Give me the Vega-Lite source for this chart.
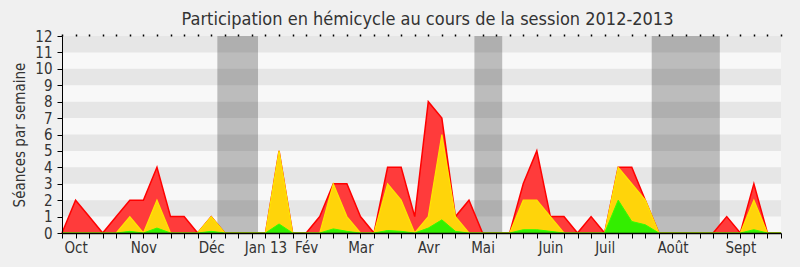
{
  "$schema": "https://vega.github.io/schema/vega-lite/v6.json",
  "autosize": {"type": "none"},
  "padding": {"left": 62, "top": 36, "right": 19, "bottom": 34},
  "width": 719,
  "height": 197,
  "background": "#f0f0f0",
  "title": {
    "text": "Participation en hémicycle au cours de la session 2012-2013",
    "font": "DejaVu Sans Condensed, DejaVu Sans",
    "fontSize": 18,
    "fontWeight": "normal",
    "color": "#333333",
    "anchor": "middle",
    "dx": 6,
    "dy": 9,
    "offset": 9
  },
  "config": {
    "view": {"fill": "#f8f8f8", "stroke": null},
    "font": "DejaVu Sans Condensed, DejaVu Sans",
    "axis": {
      "labelFont": "DejaVu Sans Condensed, DejaVu Sans",
      "titleFont": "DejaVu Sans Condensed, DejaVu Sans",
      "labelFontSize": 15,
      "titleFontSize": 15,
      "titleFontWeight": "normal",
      "labelColor": "#333333",
      "titleColor": "#333333",
      "domainColor": "#000000",
      "tickColor": "#000000",
      "ticks": true,
      "grid": false,
      "zindex": 2
    }
  },
  "datasets": {
    "weeks": [
      {"semaine": 0, "seances": 0, "interventions": 0, "questions": 0},
      {"semaine": 1, "seances": 2, "interventions": 0, "questions": 0},
      {"semaine": 2, "seances": 1, "interventions": 0, "questions": 0},
      {"semaine": 3, "seances": 0, "interventions": 0, "questions": 0},
      {"semaine": 4, "seances": 1, "interventions": 0, "questions": 0},
      {"semaine": 5, "seances": 2, "interventions": 1, "questions": 0.1},
      {"semaine": 6, "seances": 2, "interventions": 0, "questions": 0},
      {"semaine": 7, "seances": 4, "interventions": 2, "questions": 0.3},
      {"semaine": 8, "seances": 1, "interventions": 0, "questions": 0},
      {"semaine": 9, "seances": 1, "interventions": 0, "questions": 0},
      {"semaine": 10, "seances": 0, "interventions": 0, "questions": 0},
      {"semaine": 11, "seances": 1, "interventions": 1, "questions": 0.1},
      {"semaine": 12, "seances": 0, "interventions": 0, "questions": 0},
      {"semaine": 13, "seances": 0, "interventions": 0, "questions": 0},
      {"semaine": 14, "seances": 0, "interventions": 0, "questions": 0},
      {"semaine": 15, "seances": 0, "interventions": 0, "questions": 0},
      {"semaine": 16, "seances": 5, "interventions": 5, "questions": 0.55},
      {"semaine": 17, "seances": 0, "interventions": 0, "questions": 0},
      {"semaine": 18, "seances": 0, "interventions": 0, "questions": 0},
      {"semaine": 19, "seances": 1, "interventions": 0, "questions": 0},
      {"semaine": 20, "seances": 3, "interventions": 3, "questions": 0.25},
      {"semaine": 21, "seances": 3, "interventions": 1, "questions": 0.1},
      {"semaine": 22, "seances": 1, "interventions": 0, "questions": 0},
      {"semaine": 23, "seances": 0, "interventions": 0, "questions": 0},
      {"semaine": 24, "seances": 4, "interventions": 3, "questions": 0.15},
      {"semaine": 25, "seances": 4, "interventions": 2, "questions": 0.1},
      {"semaine": 26, "seances": 1, "interventions": 0, "questions": 0},
      {"semaine": 27, "seances": 8, "interventions": 1, "questions": 0.3},
      {"semaine": 28, "seances": 7, "interventions": 6, "questions": 0.8},
      {"semaine": 29, "seances": 1, "interventions": 1, "questions": 0.1},
      {"semaine": 30, "seances": 2, "interventions": 0, "questions": 0},
      {"semaine": 31, "seances": 0, "interventions": 0, "questions": 0},
      {"semaine": 32, "seances": 0, "interventions": 0, "questions": 0},
      {"semaine": 33, "seances": 0, "interventions": 0, "questions": 0},
      {"semaine": 34, "seances": 3, "interventions": 2, "questions": 0.2},
      {"semaine": 35, "seances": 5, "interventions": 2, "questions": 0.2},
      {"semaine": 36, "seances": 1, "interventions": 1, "questions": 0.1},
      {"semaine": 37, "seances": 1, "interventions": 0, "questions": 0},
      {"semaine": 38, "seances": 0, "interventions": 0, "questions": 0},
      {"semaine": 39, "seances": 1, "interventions": 0, "questions": 0},
      {"semaine": 40, "seances": 0, "interventions": 0, "questions": 0},
      {"semaine": 41, "seances": 4, "interventions": 4, "questions": 2},
      {"semaine": 42, "seances": 4, "interventions": 3, "questions": 0.7},
      {"semaine": 43, "seances": 2, "interventions": 2, "questions": 0.5},
      {"semaine": 44, "seances": 0, "interventions": 0, "questions": 0},
      {"semaine": 45, "seances": 0, "interventions": 0, "questions": 0},
      {"semaine": 46, "seances": 0, "interventions": 0, "questions": 0},
      {"semaine": 47, "seances": 0, "interventions": 0, "questions": 0},
      {"semaine": 48, "seances": 0, "interventions": 0, "questions": 0},
      {"semaine": 49, "seances": 1, "interventions": 0, "questions": 0},
      {"semaine": 50, "seances": 0, "interventions": 0, "questions": 0},
      {"semaine": 51, "seances": 3, "interventions": 2, "questions": 0.2},
      {"semaine": 52, "seances": 0, "interventions": 0, "questions": 0},
      {"semaine": 53, "seances": 0, "interventions": 0, "questions": 0}
    ],
    "bands": [
      {"bas": 1, "haut": 2},
      {"bas": 3, "haut": 4},
      {"bas": 5, "haut": 6},
      {"bas": 7, "haut": 8},
      {"bas": 9, "haut": 10},
      {"bas": 11, "haut": 12}
    ],
    "vacances": [
      {"debut": 11.45, "fin": 14.45},
      {"debut": 30.4, "fin": 32.45},
      {"debut": 43.47, "fin": 48.49}
    ]
  },
  "resolve": {"axis": {"x": "independent", "y": "independent"}},
  "layer": [
    {
      "data": {"name": "bands"},
      "mark": {"type": "rect", "fill": "#e6e6e6"},
      "encoding": {
        "y": {"field": "bas", "type": "quantitative", "scale": {"domain": [0, 12], "nice": false},
              "axis": {"values": [0,1,2,3,4,5,6,7,8,9,10,11,12], "title": "Séances par semaine", "domain": true, "domainColor": "#000000", "domainWidth": 1, "ticks": true, "tickSize": 5, "tickColor": "#000000", "labelPadding": 5, "titlePadding": 7, "zindex": 3}},
        "y2": {"field": "haut"}
      }
    },
    {
      "data": {"name": "vacances"},
      "mark": {"type": "rect", "fill": "#000000", "opacity": 0.24},
      "encoding": {
        "x": {"field": "debut", "type": "quantitative", "scale": {"domain": [0, 53], "nice": false, "zero": false},
              "axis": {"orient": "top", "values": [0,1,2,3,4,5,6,7,8,9,10,11,12,13,14,15,16,17,18,19,20,21,22,23,24,25,26,27,28,29,30,31,32,33,34,35,36,37,38,39,40,41,42,43,44,45,46,47,48,49,50,51,52,53], "labels": false, "domain": false, "tickSize": 2, "tickWidth": 1.5, "title": null, "zindex": 3}},
        "x2": {"field": "fin"}
      }
    },
    {
      "data": {"name": "weeks"},
      "mark": {"type": "area", "color": "#ff3b3b", "fillOpacity": 1, "line": {"color": "#ff0000", "strokeWidth": 1.5}},
      "encoding": {
        "x": {"field": "semaine", "type": "quantitative",
              "axis": {"orient": "bottom", "values": [0,1,2,3,4,5,6,7,8,9,10,11,12,13,14,15,16,17,18,19,20,21,22,23,24,25,26,27,28,29,30,31,32,33,34,35,36,37,38,39,40,41,42,43,44,45,46,47,48,49,50,51,52,53],
                       "labelExpr": "datum.value==1?'Oct':datum.value==6?'Nov':datum.value==11?'Déc':datum.value==15?'Jan 13':datum.value==18?'Fév':datum.value==22?'Mar':datum.value==27?'Avr':datum.value==31?'Mai':datum.value==36?'Juin':datum.value==40?'Juil':datum.value==45?'Août':datum.value==50?'Sept':''",
                       "labelOverlap": false, "labelFlush": false, "domain": true, "domainColor": "#000000", "domainWidth": 1.5, "ticks": true, "tickSize": 5, "tickWidth": 1, "tickColor": "#000000", "labelPadding": 2, "title": null, "zindex": 3}},
        "y": {"field": "seances", "type": "quantitative", "stack": null, "axis": null}
      }
    },
    {
      "data": {"name": "weeks"},
      "mark": {"type": "area", "color": "#ffd40a", "fillOpacity": 1, "line": {"color": "#ffe600", "strokeWidth": 1.2}},
      "encoding": {
        "x": {"field": "semaine", "type": "quantitative", "axis": null},
        "y": {"field": "interventions", "type": "quantitative", "stack": null, "axis": null}
      }
    },
    {
      "data": {"name": "weeks"},
      "mark": {"type": "area", "color": "#33ee00", "fillOpacity": 1, "line": {"color": "#33ff00", "strokeWidth": 1}},
      "encoding": {
        "x": {"field": "semaine", "type": "quantitative", "axis": null},
        "y": {"field": "questions", "type": "quantitative", "stack": null, "axis": null}
      }
    }
  ]
}
